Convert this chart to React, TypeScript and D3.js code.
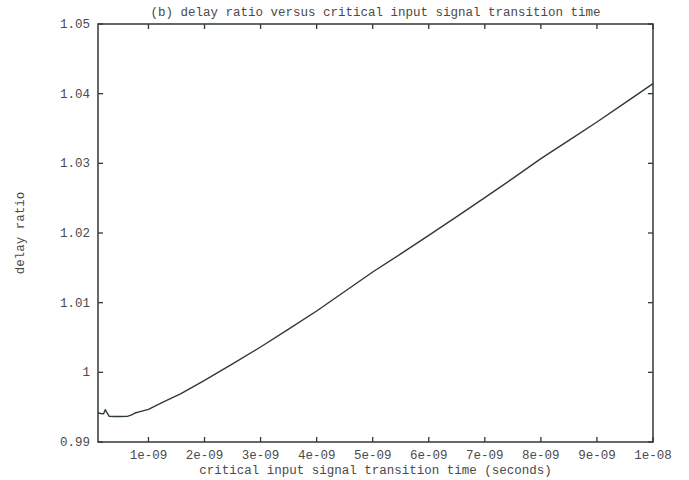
import { useEffect, useRef } from 'react';
import * as d3 from 'd3';

// transition time (ns) and the delay ratio
const transitionNs = [0.1, 0.15, 0.2, 0.23, 0.26, 0.3, 0.4, 0.5, 0.625, 0.7, 0.76, 0.85, 1.0, 1.25, 1.58, 2.0, 2.5, 3.0, 3.5, 4.0, 4.5, 5.0, 5.5, 6.0, 6.5, 7.0, 7.5, 8.0, 8.5, 9.0, 9.5, 10.0];
const delayRatio = [0.99416, 0.9941, 0.99405, 0.99464, 0.9942, 0.99368, 0.99366, 0.99366, 0.99368, 0.9939, 0.99416, 0.99435, 0.99469, 0.9957, 0.99694, 0.99885, 1.0012, 1.00364, 1.0062, 1.0088, 1.0116, 1.0144, 1.017, 1.01967, 1.02235, 1.02507, 1.02785, 1.03067, 1.0333, 1.03593, 1.03868, 1.04144];

const xTickValues = [1e-9, 2e-9, 3e-9, 4e-9, 5e-9, 6e-9, 7e-9, 8e-9, 9e-9, 1e-8];
const xTickLabels = ['1e-09', '2e-09', '3e-09', '4e-09', '5e-09', '6e-09', '7e-09', '8e-09', '9e-09', '1e-08'];
const yTickValues = [0.99, 1, 1.01, 1.02, 1.03, 1.04, 1.05];
const yTickLabels = ['0.99', '1', '1.01', '1.02', '1.03', '1.04', '1.05'];

const title = '(b) delay ratio versus critical input signal transition time';
const xTitle = 'critical input signal transition time (seconds)';
const yTitle = 'delay ratio';

const App = () => {
	const ref = useRef<SVGSVGElement>(null);

	useEffect(() => {
		const width = 689,
			height = 480;
		const margin = { top: 24, right: 36, bottom: 38, left: 98 };
		const ink = '#2f3a31';
		const textInk = '#4a4a4a';
		const font = "'Liberation Mono', 'DejaVu Sans Mono', monospace";

		const svg = d3.select(ref.current).attr('width', width).attr('height', height);
		svg.selectAll('*').remove();

		const x = d3
			.scaleLinear()
			.domain([1e-10, 1e-8])
			.range([margin.left, width - margin.right]);
		const y = d3
			.scaleLinear()
			.domain([0.99, 1.05])
			.range([height - margin.bottom, margin.top]);

		const data = transitionNs.map((t, i) => ({ t: t * 1e-9, r: delayRatio[i] }));

		// frame
		svg
			.append('rect')
			.attr('x', x(1e-10))
			.attr('y', y(1.05))
			.attr('width', x(1e-8) - x(1e-10))
			.attr('height', y(0.99) - y(1.05))
			.attr('fill', 'none')
			.attr('stroke', ink)
			.attr('stroke-width', 1.5);

		const tickLen = 5;

		// x ticks, bottom and top, pointing inward
		const xt = svg.append('g').attr('stroke', ink).attr('stroke-width', 1.3);
		xt.selectAll()
			.data(xTickValues)
			.join('line')
			.attr('x1', (d) => x(d))
			.attr('x2', (d) => x(d))
			.attr('y1', y(0.99))
			.attr('y2', y(0.99) - tickLen);
		xt.selectAll()
			.data(xTickValues)
			.join('line')
			.attr('x1', (d) => x(d))
			.attr('x2', (d) => x(d))
			.attr('y1', y(1.05))
			.attr('y2', y(1.05) + tickLen);

		// y ticks, left and right
		const yt = svg.append('g').attr('stroke', ink).attr('stroke-width', 1.3);
		yt.selectAll()
			.data(yTickValues)
			.join('line')
			.attr('x1', x(1e-10))
			.attr('x2', x(1e-10) + tickLen)
			.attr('y1', (d) => y(d))
			.attr('y2', (d) => y(d));
		yt.selectAll()
			.data(yTickValues)
			.join('line')
			.attr('x1', x(1e-8))
			.attr('x2', x(1e-8) - tickLen)
			.attr('y1', (d) => y(d))
			.attr('y2', (d) => y(d));

		// tick labels
		svg
			.append('g')
			.style('font-family', font)
			.style('font-size', '12.5px')
			.attr('fill', textInk)
			.selectAll()
			.data(xTickValues)
			.join('text')
			.attr('x', (d) => x(d))
			.attr('y', y(0.99) + 17)
			.attr('text-anchor', 'middle')
			.text((d, i) => xTickLabels[i]);

		svg
			.append('g')
			.style('font-family', font)
			.style('font-size', '12.5px')
			.attr('fill', textInk)
			.selectAll()
			.data(yTickValues)
			.join('text')
			.attr('x', x(1e-10) - 8)
			.attr('y', (d) => y(d) + 4)
			.attr('text-anchor', 'end')
			.text((d, i) => yTickLabels[i]);

		// titles
		const cx = (x(1e-10) + x(1e-8)) / 2;
		svg
			.append('text')
			.attr('x', cx)
			.attr('y', 16)
			.attr('text-anchor', 'middle')
			.style('font-family', font)
			.style('font-size', '12.5px')
			.attr('fill', textInk)
			.text(title);

		svg
			.append('text')
			.attr('x', cx)
			.attr('y', y(0.99) + 32)
			.attr('text-anchor', 'middle')
			.style('font-family', font)
			.style('font-size', '12.5px')
			.attr('fill', textInk)
			.text(xTitle);

		const cy = (y(0.99) + y(1.05)) / 2;
		svg
			.append('text')
			.attr('transform', `translate(24, ${cy}) rotate(-90)`)
			.attr('text-anchor', 'middle')
			.style('font-family', font)
			.style('font-size', '12.5px')
			.attr('fill', textInk)
			.text(yTitle);

		// the curve
		const line = d3
			.line<{ t: number; r: number }>()
			.x((d) => x(d.t))
			.y((d) => y(d.r));

		svg
			.append('path')
			.datum(data)
			.attr('d', line)
			.attr('fill', 'none')
			.attr('stroke', ink)
			.attr('stroke-width', 1.4)
			.attr('stroke-linejoin', 'round');
	}, []);

	return (
		<svg
			ref={ref}
			width={689}
			height={480}
			style={{ position: 'absolute', left: 0, top: 0, background: '#fff' }}
		></svg>
	);
};

export default App;
